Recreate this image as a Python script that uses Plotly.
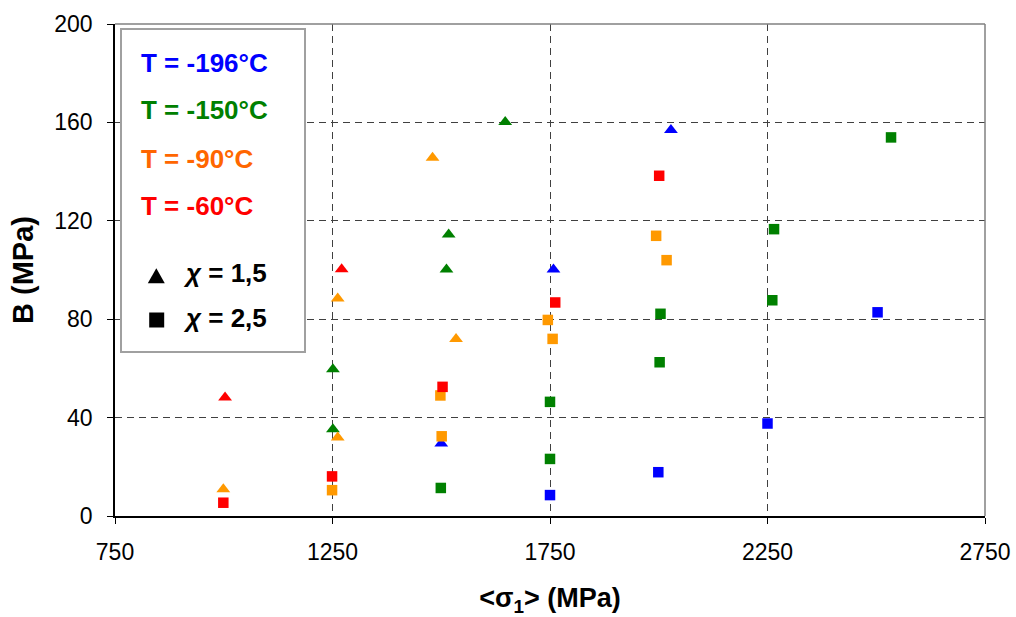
import plotly.graph_objects as go

# ---- data ----
blue_tri_x = [1500, 1758, 2028]
blue_tri_y = [29.5, 100.2, 156.9]
blue_sq_x = [1750, 1999, 2250, 2503]
blue_sq_y = [8.5, 17.8, 37.6, 82.8]

green_tri_x = [1251, 1251, 1512, 1517, 1647]
green_tri_y = [35.3, 59.7, 100.2, 114.4, 160.2]
green_sq_x = [1499, 1750, 1750, 2002, 2004, 2261, 2265, 2534]
green_sq_y = [11.4, 23.2, 46.4, 62.5, 82.2, 87.7, 116.6, 153.9]

orange_tri_x = [999, 1262, 1262, 1480, 1534]
orange_tri_y = [10.9, 31.9, 88.4, 145.6, 72.0]
orange_sq_x = [1249, 1498, 1501, 1745, 1756, 1994, 2018]
orange_sq_y = [10.5, 49.0, 32.4, 79.7, 72.0, 113.9, 104.0]

red_tri_x = [1003, 1271]
red_tri_y = [48.2, 100.3]
red_sq_x = [999, 1249, 1503, 1762, 2001]
red_sq_y = [5.4, 16.1, 52.5, 86.8, 138.3]

legend_labels = ["T = -196°C", "T = -150°C", "T = -90°C", "T = -60°C"]
legend_colors = ["#0000FF", "#008000", "#FF6600", "#FF0000"]
chi_labels = ["<i>χ</i> = 1,5", "<i>χ</i> = 2,5"]

x_ticks = [750, 1250, 1750, 2250, 2750]
y_ticks = [0, 40, 80, 120, 160, 200]

FONT = "Arial, Liberation Sans, sans-serif"

series = [
    (blue_tri_x, blue_tri_y, "#0000FF", "triangle-up"),
    (blue_sq_x, blue_sq_y, "#0000FF", "square"),
    (green_tri_x, green_tri_y, "#008000", "triangle-up"),
    (green_sq_x, green_sq_y, "#008000", "square"),
    (orange_tri_x, orange_tri_y, "#FF9900", "triangle-up"),
    (orange_sq_x, orange_sq_y, "#FF9900", "square"),
    (red_tri_x, red_tri_y, "#FF0000", "triangle-up"),
    (red_sq_x, red_sq_y, "#FF0000", "square"),
]

fig = go.Figure()
for xs, ys, col, sym in series:
    fig.add_trace(go.Scatter(
        x=xs, y=ys, mode="markers", showlegend=False,
        marker=dict(symbol=sym, color=col, size=10.5 if sym == "square" else 12,
                    line=dict(width=0)),
    ))

# plot area in pixels
L, R, T, B = 115, 31, 24, 101
W, H = 1016, 617
PW, PH = W - L - R, H - T - B


def px(xp):
    return (xp - L) / PW


def py(yp):
    return (H - B - yp) / PH


shapes = []
# top / right frame in gray
shapes.append(dict(type="line", xref="paper", yref="paper", x0=0, x1=1, y0=1, y1=1,
                   line=dict(color="#808080", width=1.5)))
shapes.append(dict(type="line", xref="paper", yref="paper", x0=1, x1=1, y0=0, y1=1,
                   line=dict(color="#808080", width=1.5)))
# legend box
shapes.append(dict(type="rect", xref="paper", yref="paper",
                   x0=px(121), x1=px(305), y0=py(352), y1=py(29),
                   line=dict(color="#A0A0A0", width=2), fillcolor="white", layer="above"))
# legend symbols
cx, cy = 156.3, 275.7
shapes.append(dict(type="path", xref="paper", yref="paper",
                   path=f"M {px(cx-8.5)},{py(cy+7.5)} L {px(cx+8.5)},{py(cy+7.5)} L {px(cx)},{py(cy-7.5)} Z",
                   fillcolor="black", line=dict(width=0), layer="above"))
sx, sy = 156.7, 320
shapes.append(dict(type="rect", xref="paper", yref="paper",
                   x0=px(sx-7.5), x1=px(sx+7.5), y0=py(sy+7.5), y1=py(sy-7.5),
                   fillcolor="black", line=dict(width=0), layer="above"))

annotations = []
for lab, col, yc in zip(legend_labels, legend_colors, [63.3, 110, 159.3, 205.7]):
    annotations.append(dict(text=f"<b>{lab}</b>", x=px(139), y=py(yc), xref="paper", yref="paper",
                            xanchor="left", yanchor="middle", showarrow=False,
                            font=dict(family=FONT, size=26, color=col)))
for lab, yc in zip(chi_labels, [273, 318]):
    annotations.append(dict(text=f"<b>{lab}</b>", x=px(181), y=py(yc), xref="paper", yref="paper",
                            xanchor="left", yanchor="middle", showarrow=False,
                            font=dict(family=FONT, size=26, color="black")))

grid = dict(gridcolor="#404040", griddash="7px,5px", gridwidth=1)

fig.update_layout(
    width=W, height=H,
    margin=dict(l=L, r=R, t=T, b=B, autoexpand=False),
    paper_bgcolor="white", plot_bgcolor="white",
    font=dict(family=FONT, color="black"),
    shapes=shapes, annotations=annotations,
    xaxis=dict(range=[750, 2750], tickvals=x_ticks, tickformat="d",
               showline=True, linecolor="black", linewidth=1.5,
               ticks="outside", ticklen=6, tickcolor="black", ticklabelstandoff=9,
               tickfont=dict(size=23, family=FONT), zeroline=False, automargin=False,
               title=dict(text="<b>&lt;σ<sub>1</sub>&gt; (MPa)</b>", font=dict(size=27, family=FONT),
                          standoff=26),
               **grid),
    yaxis=dict(range=[0, 200], tickvals=y_ticks,
               showline=True, linecolor="black", linewidth=1.5,
               ticks="outside", ticklen=6, tickcolor="black", ticklabelstandoff=10,
               tickfont=dict(size=23, family=FONT), zeroline=False, automargin=False,
               title=dict(text="<b>B (MPa)</b>", font=dict(size=29, family=FONT), standoff=12),
               **grid),
)

fig.write_html("out.html", config={"displayModeBar": False},
               post_script="document.body.style.margin='0px';")
